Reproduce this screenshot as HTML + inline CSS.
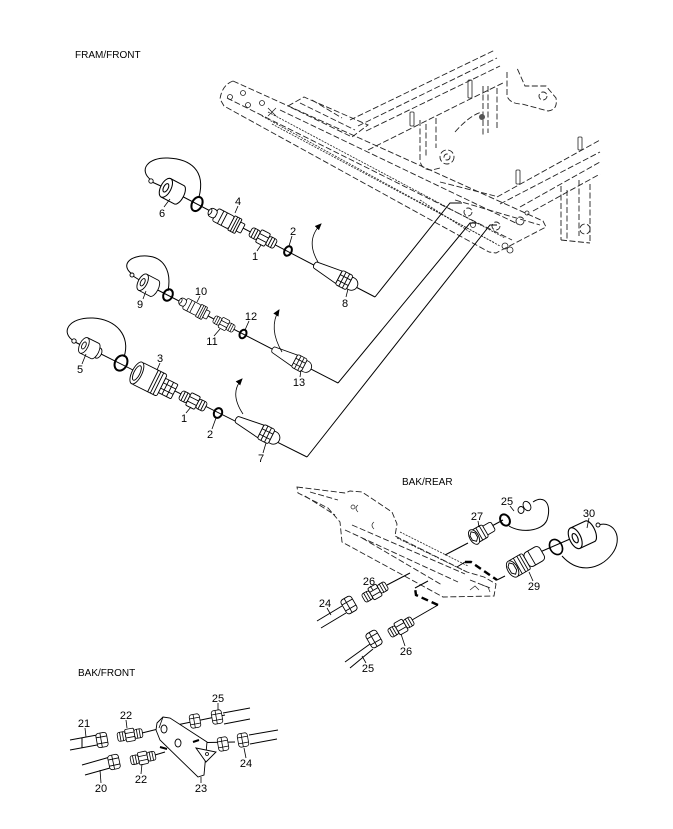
<!DOCTYPE html>
<html><head><meta charset="utf-8"><style>
html,body{margin:0;padding:0;background:#fff;}
svg{display:block;}
text{font-family:"Liberation Sans",Arial,sans-serif;font-size:11px;fill:#000;text-anchor:middle;}
.t{font-size:10px;text-anchor:start;}
.d{fill:none;stroke:#222;stroke-width:0.9;stroke-dasharray:6 2.5;}
.dd{fill:none;stroke:#222;stroke-width:0.8;stroke-dasharray:2 1.2;}
.s{fill:none;stroke:#000;stroke-width:1;}
.l{fill:none;stroke:#000;stroke-width:0.8;}
.o{fill:none;stroke:#000;stroke-width:2;}
.b{fill:none;stroke:#000;stroke-width:2.4;stroke-dasharray:7 4;}
</style></head><body>
<svg width="673" height="829" viewBox="0 0 673 829" xmlns="http://www.w3.org/2000/svg">
<defs>
<marker id="ah" markerWidth="8" markerHeight="8" refX="6" refY="4" orient="auto" markerUnits="userSpaceOnUse"><path d="M0,1 L7,4 L0,7 Z" fill="#000"/></marker>
<g id="adp" fill="#fff" stroke="#000" stroke-width="0.9">
<rect x="-14" y="-5" width="9" height="10" rx="2.5"/>
<rect x="5" y="-5" width="9" height="10" rx="2.5"/>
<rect x="-5" y="-7" width="10" height="14" rx="1.5"/>
<path d="M-11,-5v10M-8,-5v10M8,-5v10M11,-5v10M-5,-2.5h10M-5,2.5h10" fill="none"/>
</g>
<g id="cpl" fill="#fff" stroke="#000" stroke-width="0.9">
<rect x="-12" y="-7" width="18" height="14" rx="2"/>
<rect x="-19" y="-4.5" width="8" height="9" rx="3"/>
<ellipse cx="-18" cy="0" rx="1.5" ry="3"/>
<rect x="6" y="-8" width="8" height="16" rx="1"/>
<rect x="14" y="-5" width="5" height="10" rx="1"/>
<path d="M-6,-7v14M-2,-7v14M9,-8v16M11.5,-8v16" fill="none"/>
</g>
<g id="cpl3" fill="#fff" stroke="#000" stroke-width="0.9">
<rect x="10" y="-8" width="14" height="16" rx="1"/>
<path d="M14,-8v16M19,-8v16M10,-3h14M10,3h14" fill="none"/>
<rect x="-18" y="-12" width="28" height="24" rx="2"/>
<path d="M0,-12v24M3,-12v24M6,-12v24" fill="none"/>
<ellipse cx="-18" cy="0" rx="5" ry="12"/>
<ellipse cx="-18" cy="0" rx="3" ry="8"/>
</g>
<g id="cap" fill="#fff" stroke="#000" stroke-width="0.9">
<path d="M-6,-9H7A4,9 0 0 1 7,9H-6Z"/>
<ellipse cx="-6" cy="0" rx="4.5" ry="9"/>
<ellipse cx="-6" cy="0" rx="2" ry="4"/>
</g>
<g id="fit" fill="#fff" stroke="#000" stroke-width="0.9">
<path d="M-34,-3.5 L-8,-7 L-8,7 L-34,3.5 A2,3.5 0 0 1 -34,-3.5Z"/>
<path d="M4,-6.5h2a6.5,6.5 0 0 1 0,13h-2z"/>
<rect x="-8" y="-8" width="12" height="16" rx="2"/>
<path d="M-4,-8v16M0,-8v16M-8,-3h12M-8,3h12" fill="none"/>
</g>
<g id="nut" fill="#fff" stroke="#000" stroke-width="0.9">
<rect x="-6" y="-8" width="12" height="16" rx="3"/>
<path d="M-6,-3.5h12M-6,3.5h12M-1,-8v16" fill="none"/>
</g>
<g id="c27" fill="#fff" stroke="#000" stroke-width="0.9">
<rect x="4" y="-5" width="10" height="10" rx="2"/>
<rect x="-8" y="-7" width="13" height="14" rx="2"/>
<path d="M-2,-7v14M2,-7v14" fill="none"/>
<ellipse cx="-8" cy="0" rx="4.5" ry="8"/>
<path d="M-11,-3l3,-3l3,3v5l-3,3l-3,-3z" fill="none"/>
</g>
<g id="c29" fill="#fff" stroke="#000" stroke-width="0.9">
<rect x="4" y="-8" width="18" height="16" rx="4"/>
<rect x="-12" y="-9" width="16" height="18" rx="2"/>
<path d="M-6,-9v18M-2,-9v18M1,-9v18M10,-8v16" fill="none"/>
<ellipse cx="-12" cy="0" rx="5" ry="9"/>
<path d="M-15,-4l3,-3l3,3v7l-3,3l-3,-3z" fill="none"/>
</g>
</defs>

<!-- Titles -->
<text class="t" x="75" y="58">FRAM/FRONT</text>
<text class="t" x="402" y="485">BAK/REAR</text>
<text class="t" x="78" y="676">BAK/FRONT</text>

<!-- ============ FRONT FRAME (dashed) ============ -->
<g class="d">
<path d="M233,81 L543,221 L546,227 L496,253 L489,252"/>
<path d="M233,81 Q222,85 220,99 L224,106 L489,252"/>
<path d="M227,98 L512,240"/>
<path d="M280,110 L520,225"/>
<path d="M288,106 L304,97 L368,125 L352,137 Z"/>
<path d="M300,103 L355,130 M312,100 L342,118"/>
<path d="M350,120 L495,50"/>
<path d="M358,126 L497,58"/>
<path d="M366,131 L500,66"/>
<path d="M368,150 L460,104 L505,82"/>
<path d="M420,120 L420,160 Q421,170 432,170 L440,168"/>
<path d="M426,124 L426,158 M436,118 L436,148"/>
<circle cx="447" cy="157" r="7"/>
<circle cx="447" cy="157" r="3"/>
<path d="M483,86 L483,135 M488,86 L488,133 M497,88 L497,128"/>
<path d="M455,132 Q470,115 482,112"/>
<path d="M507,72 L507,96 Q510,104 522,104 L548,111 Q558,110 556,98 L546,86 L525,86 L517,68"/>
<circle cx="543" cy="96" r="4"/>
<path d="M497,197 L600,140 M500,204 L600,152 M520,207 L600,162 M533,211 L600,174"/>
<path d="M561,186 L561,240 M567,190 L567,240 M579,180 L579,236 M590,184 L590,243 M561,240 L590,243"/>
<circle cx="585" cy="229" r="5"/>
<circle cx="468" cy="212" r="4"/>
<circle cx="496" cy="226" r="4"/>
<circle cx="520" cy="221" r="4"/>
<path d="M455,200 L540,225"/>
<path d="M440,182 L495,196"/>
</g>
<g class="dd">
<path d="M262,116 L500,246"/>
<path d="M268,112 L505,238"/>
<path d="M272,124 L495,243"/>
<path d="M420,200 L470,232"/>
</g>
<g fill="none" stroke="#222" stroke-width="0.8">
<circle cx="230" cy="97" r="2.5"/><circle cx="243" cy="93" r="2.5"/>
<circle cx="248" cy="105" r="2.5"/><circle cx="262" cy="103" r="2.5"/>
<path d="M268,108 L276,116 M276,108 L268,116"/>
<rect x="468" y="80" width="4" height="18" rx="1"/>
<rect x="410" y="112" width="4" height="14" rx="1"/>
<rect x="516" y="170" width="4" height="14" rx="1"/>
<rect x="578" y="137" width="4" height="13" rx="1"/>
<circle cx="473" cy="225" r="2.5"/><circle cx="527" cy="213" r="2"/>
<circle cx="505" cy="246" r="3"/><circle cx="510" cy="250" r="3"/>
</g>
<circle cx="482" cy="117" r="3" fill="#555"/>

<!-- ============ ROW 1 ============ -->
<line class="s" x1="172" y1="191" x2="375" y2="297"/>
<path class="s" d="M375,297 L450,203 L462,203"/>
<path class="s" d="M151,180 C138,170 148,157 168,158 C190,159 206,170 199,197"/>
<line class="s" x1="163" y1="187" x2="152" y2="182"/>
<circle cx="151" cy="181" r="2.2" fill="#fff" stroke="#000" stroke-width="0.9"/>
<use href="#cap" transform="translate(172,191) rotate(27.5) scale(1.15)"/>
<ellipse class="o" cx="197" cy="204" rx="5" ry="7.5" transform="rotate(27.5 197 204)"/>
<use href="#cpl" transform="translate(226,220) rotate(27.5)"/>
<use href="#adp" transform="translate(263,238) rotate(27.5)"/>
<ellipse class="o" cx="288" cy="251" rx="3.5" ry="5" transform="rotate(27.5 288 251)"/>
<use href="#fit" transform="translate(346,281) rotate(27.5)"/>
<path class="l" d="M318,262 Q305,240 321,224" marker-end="url(#ah)"/>

<!-- ============ ROW 2 ============ -->
<line class="s" x1="148" y1="285" x2="338" y2="383"/>
<path class="s" d="M338,383 L470,223 L477,223"/>
<path class="s" d="M132,274 C120,265 130,255 147,256 C163,257 172,270 168,291"/>
<line class="s" x1="141" y1="281" x2="133" y2="276"/>
<circle cx="132" cy="275" r="2" fill="#fff" stroke="#000" stroke-width="0.9"/>
<use href="#cap" transform="translate(148,285) rotate(27.5)"/>
<ellipse class="o" cx="168" cy="295" rx="4.5" ry="6" transform="rotate(27.5 168 295)"/>
<use href="#cpl" transform="translate(194,308) rotate(27.5) scale(0.85)"/>
<use href="#adp" transform="translate(224,324) rotate(27.5) scale(0.8)"/>
<ellipse class="o" cx="243" cy="334" rx="3.2" ry="4.5" transform="rotate(27.5 243 334)"/>
<use href="#fit" transform="translate(301,364) rotate(27.5) scale(0.9)"/>
<path class="l" d="M282,352 Q268,328 279,310" marker-end="url(#ah)"/>

<!-- ============ ROW 3 ============ -->
<line class="s" x1="89" y1="348" x2="307" y2="457"/>
<path class="s" d="M307,457 L490,225 L497,225"/>
<path class="s" d="M74,341 C60,333 68,317 93,318 C116,319 131,336 124,357"/>
<line class="s" x1="83" y1="346" x2="75" y2="342"/>
<circle cx="74" cy="341" r="2.2" fill="#fff" stroke="#000" stroke-width="0.9"/>
<ellipse cx="98" cy="353" rx="3.5" ry="5.5" transform="rotate(26.5 98 353)" fill="#fff" stroke="#000" stroke-width="0.9"/>
<use href="#cap" transform="translate(89,348) rotate(26.5) scale(0.95)"/>
<ellipse class="o" cx="121" cy="363" rx="6" ry="8" transform="rotate(26.5 121 363)"/>
<use href="#cpl3" transform="translate(153,381) rotate(26.5)"/>
<use href="#adp" transform="translate(193,401) rotate(26.5)"/>
<ellipse class="o" cx="218" cy="413" rx="4" ry="5" transform="rotate(26.5 218 413)"/>
<use href="#fit" transform="translate(268,435) rotate(26.5)"/>
<path class="l" d="M243,414 Q229,393 242,379" marker-end="url(#ah)"/>

<!-- Row labels -->
<text x="162" y="217">6</text><path class="l" d="M164,207 L170,199"/>
<text x="238" y="205">4</text><path class="l" d="M238,206 L235,213"/>
<text x="255" y="260">1</text><path class="l" d="M257,251 L261,245"/>
<text x="293" y="235">2</text><path class="l" d="M292,236 L289,246"/>
<text x="345" y="307">8</text><path class="l" d="M346,297 L348,289"/>
<text x="140" y="308">9</text><path class="l" d="M143,299 L146,291"/>
<text x="201" y="295">10</text><path class="l" d="M200,296 L197,302"/>
<text x="212" y="345">11</text><path class="l" d="M214,336 L220,329"/>
<text x="251" y="320">12</text><path class="l" d="M249,321 L245,330"/>
<text x="299" y="386">13</text><path class="l" d="M300,377 L301,370"/>
<text x="80" y="373">5</text><path class="l" d="M82,364 L86,354"/>
<text x="160" y="362">3</text><path class="l" d="M160,363 L157,370"/>
<text x="184" y="422">1</text><path class="l" d="M186,413 L191,407"/>
<text x="210" y="438">2</text><path class="l" d="M212,429 L216,418"/>
<text x="261" y="462">7</text><path class="l" d="M263,453 L266,443"/>

<!-- ============ REAR FRAME ============ -->
<g class="d">
<path d="M297,487 L345,493 L350,491 L362,492 L392,512 L397,524 L395,536 L467,572 L484,577 L496,584 L494,596 L443,597 L342,542 L340,522 L328,508 L298,493 Z"/>
<path d="M352,525 L465,574"/>
<path d="M345,530 L458,582"/>
<path d="M362,538 L442,585"/>
<path d="M310,492 L338,500 M305,496 L335,515"/>
<path d="M470,580 L490,588"/>
</g>
<path class="dd" d="M397,538 L467,572"/>
<path class="dd" d="M400,532 L468,566"/>
<g fill="none" stroke="#222" stroke-width="0.7">
<circle cx="353" cy="507" r="2"/><path d="M358,505 q-4,3 0,7 M374,522 q-4,3 0,7"/>
<path d="M470,590 l5,-4 l4,4 M482,585 l6,2 l2,5"/>
</g>

<!-- Rear upper hose 24 / 26 -->
<path class="s" d="M317,621 L342,606 M321,628 L346,613"/>
<use href="#nut" transform="translate(349,605) rotate(-30)"/>
<use href="#adp" transform="translate(375,592) rotate(-30) scale(0.95)"/>
<path class="s" d="M387,585 L410,573"/>
<!-- Rear lower hose 25 / 26 -->
<path class="s" d="M345,662 L370,644 M350,668 L373,649"/>
<use href="#nut" transform="translate(374,639) rotate(-30)"/>
<use href="#adp" transform="translate(401,627) rotate(-30) scale(0.95)"/>
<path class="s" d="M412,620 L438,605"/>
<path class="b" d="M438,605 L416,595 L415,588"/>
<path class="s" d="M415,588 L428,581"/>
<!-- 27 -->
<path class="s" d="M445,555 L468,543"/>
<path class="s" d="M490,527 L503,520"/>
<use href="#c27" transform="translate(481,533) rotate(-30)"/>
<path class="s" d="M533,502 C545,494 552,505 547,520 C542,532 520,533 509,526"/>
<ellipse class="o" cx="505" cy="520" rx="4.5" ry="6" transform="rotate(-30 505 520)" stroke-width="1.6"/>
<ellipse cx="521" cy="510" rx="3" ry="3.5" fill="#fff" stroke="#000" stroke-width="0.9"/>
<ellipse cx="527" cy="506" rx="3.5" ry="5" transform="rotate(-30 527 506)" fill="#fff" stroke="#000" stroke-width="0.9"/>
<!-- 29 / 30 -->
<path class="s" d="M457,567 L465,562"/>
<path class="b" d="M465,562 L471,562 L497,580"/>
<path class="s" d="M497,580 L505,576"/>
<path class="s" d="M540,552 L577,536"/>
<use href="#c29" transform="translate(523,563) rotate(-30)"/>
<path class="s" d="M598,525 C614,520 624,538 612,554 C600,570 578,574 562,556"/>
<ellipse cx="556" cy="547" rx="6" ry="8" transform="rotate(-30 556 547)" fill="none" stroke="#000" stroke-width="1.6"/>
<use href="#cap" transform="translate(582,535) rotate(-25) scale(1.25)"/>
<circle cx="598" cy="525" r="2" fill="#fff" stroke="#000" stroke-width="0.9"/>

<!-- Rear labels -->
<text x="507" y="505">25</text><path class="l" d="M510,506 L514,511"/>
<text x="477" y="520">27</text><path class="l" d="M478,521 L479,527"/>
<text x="589" y="517">30</text><path class="l" d="M589,518 L587,528"/>
<text x="534" y="590">29</text><path class="l" d="M533,581 L529,572"/>
<text x="369" y="585">26</text><path class="l" d="M370,586 L373,590"/>
<text x="325" y="607">24</text><path class="l" d="M327,608 L331,615"/>
<text x="406" y="655">26</text><path class="l" d="M405,646 L401,634"/>
<text x="368" y="672">25</text><path class="l" d="M366,663 L362,656"/>

<!-- ============ BAK/FRONT ============ -->
<path class="s" d="M167,727 L225,715"/>
<path class="s" d="M180,743 L235,742"/>
<path class="s" d="M223,713 L250,708 M224,724 L250,719"/>
<path class="s" d="M249,735 L278,730 M250,744 L277,739"/>
<use href="#nut" transform="translate(195,721) rotate(-10) scale(0.85)"/>
<use href="#nut" transform="translate(217,717) rotate(-10) scale(0.85)"/>
<use href="#nut" transform="translate(223,744) rotate(-10) scale(0.85)"/>
<use href="#nut" transform="translate(243,740) rotate(-10) scale(0.85)"/>
<path class="s" d="M142,733 L162,728"/>
<path class="s" d="M155,755 L165,752"/>
<path class="s" d="M70,740 L97,735 M70,750 L97,745 M82,738 L82,748"/>
<path class="s" d="M82,765 L110,757 M85,775 L110,768"/>
<use href="#nut" transform="translate(102,740) rotate(-10) scale(0.9)"/>
<use href="#adp" transform="translate(130,735) rotate(-10) scale(0.9)"/>
<use href="#nut" transform="translate(114,762) rotate(-12) scale(0.9)"/>
<use href="#adp" transform="translate(143,758) rotate(-12) scale(0.9)"/>
<polygon points="157,723 163,717 170,718 207,742 204,775 198,777 160,740 156,730" fill="#fff" stroke="#000" stroke-width="0.9"/>
<path class="l" d="M163,717 L159,728"/>
<ellipse cx="164" cy="729" rx="3" ry="4" fill="#fff" stroke="#000" stroke-width="0.9"/>
<ellipse cx="178" cy="743" rx="3" ry="4" fill="#fff" stroke="#000" stroke-width="0.9"/>
<polygon points="196,748 216,752 206,762" fill="#fff" stroke="#000" stroke-width="0.9"/>
<circle cx="207" cy="754" r="1.5" fill="none" stroke="#000" stroke-width="0.8"/>
<path d="M160,747 L167,749 M193,742 L199,740" stroke="#000" stroke-width="2" fill="none"/>

<text x="84" y="727">21</text><path class="l" d="M85,728 L86,737"/>
<text x="126" y="719">22</text><path class="l" d="M126,720 L127,728"/>
<text x="218" y="702">25</text><path class="l" d="M218,703 L218,710"/>
<text x="101" y="792">20</text><path class="l" d="M101,783 L100,770"/>
<text x="141" y="783">22</text><path class="l" d="M141,774 L142,764"/>
<text x="246" y="767">24</text><path class="l" d="M246,758 L244,748"/>
<text x="201" y="792">23</text><path class="l" d="M201,783 L201,777"/>
</svg>
</body></html>
